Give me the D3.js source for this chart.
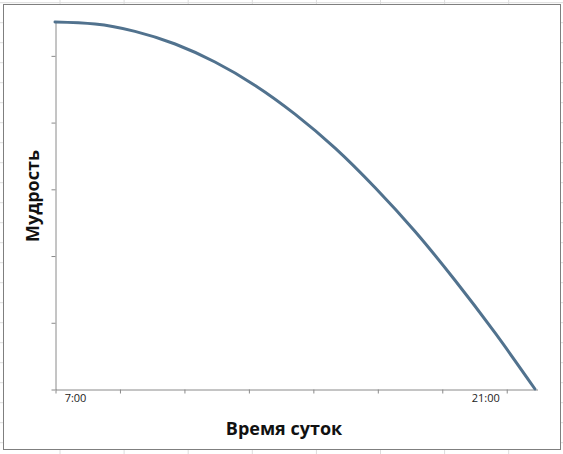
<!DOCTYPE html>
<html>
<head>
<meta charset="utf-8">
<script src="https://cdn.jsdelivr.net/npm/d3@7"></script>
<style>
  html, body { margin: 0; padding: 0; background: #fff; }
</style>
</head>
<body>
<svg id="chart" width="563" height="454"></svg>
<script>
// hours of the day vs wisdom
var hours  = [6.30, 7.67, 9.03, 10.40, 11.76, 13.13, 14.49, 15.86, 17.22, 18.59, 19.95, 21.32, 22.68];
var wisdom = [5.50, 5.47, 5.36, 5.17, 4.90, 4.55, 4.12, 3.61, 3.02, 2.36, 1.63, 0.84, 0.00];

var xTicks = [6.3, 8.5, 10.7, 12.9, 15.1, 17.3, 19.5, 21.7];
var yTicks = [0, 1, 2, 3, 4, 5];
var xLabels = [7, 21];
var xLabelText = ["7:00", "21:00"];

var xTitle = "Время суток";
var yTitle = "Мудрость";

var W = 563, H = 454;
var plot = {left: 55, right: 537, top: 22, bottom: 389};
var axisColor = "#8a8a8a";
var lineColor = "#51728e";

var svg = d3.select("#chart");

// spreadsheet grid peeking out behind the chart
var bg = svg.append("g").attr("class", "sheet");
bg.selectAll(".col").data(d3.range(-4, 10))
  .enter().append("line")
    .attr("x1", d => 60 + d * 64.1).attr("x2", d => 60 + d * 64.1)
    .attr("y1", 0).attr("y2", H)
    .style("stroke", "#dcdcdc");
bg.selectAll(".row").data(d3.range(0, 24))
  .enter().append("line")
    .attr("x1", 0).attr("x2", W)
    .attr("y1", d => 2.7 + d * 20).attr("y2", d => 2.7 + d * 20)
    .style("stroke", "#dcdcdc");

// chart area
svg.append("rect")
  .attr("x", 3.5).attr("y", 4.5)
  .attr("width", 557).attr("height", 445)
  .style("fill", "#fff")
  .style("stroke", "#7f7f7f")
  .style("stroke-width", 1);

var x = d3.scaleLinear().domain([6.3, 22.75]).range([plot.left, plot.right]);
var y = d3.scaleLinear().domain([0, 5.5]).range([plot.bottom, plot.top]);

var yAxis = d3.axisLeft(y).tickValues(yTicks).tickFormat("").tickSize(4).tickSizeOuter(0);
var xAxis = d3.axisBottom(x).tickValues(xTicks).tickFormat("").tickSize(4).tickSizeOuter(0);

var gy = svg.append("g")
  .attr("transform", `translate(${plot.left + 0.5},0.5)`)
  .call(yAxis);
var gx = svg.append("g")
  .attr("transform", `translate(0.5,${plot.bottom + 0.5})`)
  .call(xAxis);
[gy, gx].forEach(g => {
  g.selectAll("path, line").style("stroke", axisColor).style("stroke-width", 1);
});

svg.append("g").selectAll("text")
  .data(xLabels)
  .enter().append("text")
    .attr("x", d => x(d))
    .attr("y", 402)
    .attr("text-anchor", "middle")
    .style("font-family", "'Open Sans', sans-serif")
    .style("font-size", "11px")
    .style("fill", "#222")
    .text((d, i) => xLabelText[i]);

var data = hours.map((h, i) => ({h: h, v: wisdom[i]}));
var line = d3.line()
  .x(d => x(d.h))
  .y(d => y(d.v))
  .curve(d3.curveMonotoneX);

svg.append("path")
  .datum(data)
  .attr("d", line)
  .style("fill", "none")
  .style("stroke", lineColor)
  .style("stroke-width", 3)
  .style("stroke-linecap", "round");

svg.append("text")
  .attr("x", 284)
  .attr("y", 435)
  .attr("text-anchor", "middle")
  .style("font-family", "'Open Sans', sans-serif")
  .style("font-weight", 700)
  .style("font-size", "18px")
  .style("fill", "#111")
  .text(xTitle);

svg.append("text")
  .attr("transform", "translate(39,196) rotate(-90)")
  .attr("text-anchor", "middle")
  .style("font-family", "'Open Sans', sans-serif")
  .style("font-weight", 700)
  .style("font-size", "18px")
  .style("fill", "#111")
  .text(yTitle);
</script>
</body>
</html>
